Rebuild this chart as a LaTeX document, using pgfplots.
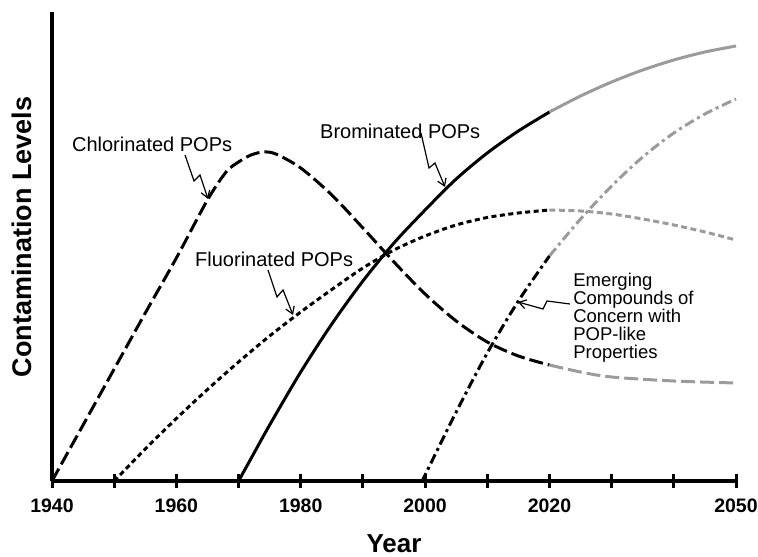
\documentclass[border=0pt]{standalone}
\usepackage{fontspec}
\setmainfont{Liberation Sans}
\usepackage{pgfplots}
\pgfplotsset{compat=1.18}
\usetikzlibrary{arrows.meta}
\definecolor{fut}{RGB}{155,155,155}
\begin{document}
\begin{tikzpicture}
\useasboundingbox (-52pt,-76pt) rectangle (706pt,481pt);
\begin{axis}[
  scale only axis, width=684pt, height=469pt,
  xmin=1940, xmax=2050, ymin=0, ymax=469,
  axis x line=bottom, axis y line=left,
  axis line style={-, line width=3.5pt},
  xtick={1940,1950,...,2050},
  xticklabels={1940,,1960,,1980,,2000,,2020,,,2050},
  ytick=\empty,
  major tick length=14pt, tick align=center,
  every tick/.style={black, line width=3pt},
  /pgf/number format/assume math mode=true,
  xticklabel style={font=\fontsize{19.5}{20}\selectfont\bfseries, inner sep=0pt, anchor=north, yshift=-11pt},
  xlabel={Year},
  xlabel style={at={(axis description cs:0.5,0)}, anchor=base, yshift=-71pt, inner sep=0pt, font=\fontsize{26}{28}\selectfont\bfseries},
  ylabel={Contamination Levels},
  ylabel style={at={(axis description cs:-0.044,0.52)}, anchor=center, inner sep=0pt, font=\fontsize{27}{28}\selectfont\bfseries},
  clip=false,
]
% Chlorinated POPs
\addplot[black, line width=3pt, dash pattern=on 14pt off 5pt, smooth] coordinates {
 (1940,0) (1945,56) (1950,112) (1955,168) (1960,223) (1965,281) (1968,309) (1970,319) (1972,326) (1974,329) (1976,327) (1980,313) (1985,286) (1990,253) (1995,219) (2000,187) (2005,160) (2010,139) (2015,125) (2020,116)};
\addplot[fut, line width=3pt, dash pattern=on 14pt off 5pt, smooth] coordinates {
 (2020,116) (2025,109) (2030,104) (2040,100) (2050,98)};
% Fluorinated POPs
\addplot[black, line width=3pt, dash pattern=on 5pt off 3.5pt, smooth] coordinates {
 (1950,0) (1955,32) (1960,62.5) (1965,91.5) (1970,119) (1975,145) (1980,169) (1985,191.5) (1990,213) (1995,231) (2000,245) (2005,256) (2010,263.5) (2015,268) (2020,271)};
\addplot[fut, line width=3pt, dash pattern=on 6pt off 3.5pt, smooth] coordinates {
 (2020,271) (2025,270) (2030,267) (2035,262) (2040,256) (2045,249) (2050,241)};
% Brominated POPs
\addplot[black, line width=3pt, smooth] coordinates {
 (1970,0) (1972,22.4) (1975,56) (1980,109) (1985,157) (1990,200) (1995,238) (2000,271) (2005,302) (2010,328) (2015,350) (2020,369)};
\addplot[fut, line width=3pt, smooth] coordinates {
 (2020,369) (2025,385) (2030,399) (2035,411) (2040,421) (2045,429) (2050,435)};
% Emerging compounds
\addplot[black, line width=3pt, dash pattern=on 10pt off 4pt on 3pt off 4pt, smooth] coordinates {
 (1999.5,0) (2000,6) (2005,69) (2010,128) (2015,180) (2020,225)};
\addplot[fut, line width=3pt, dash pattern=on 10pt off 4pt on 3pt off 4pt, smooth] coordinates {
 (2020,225) (2025,262) (2030,295) (2035,324) (2040,348) (2045,367) (2050,382)};
% annotations
\node[anchor=base west, inner sep=0pt, font=\fontsize{20}{22}\selectfont] at (axis cs:1943.2,329) {Chlorinated POPs};
\node[anchor=base west, inner sep=0pt, font=\fontsize{20}{22}\selectfont] at (axis cs:1983.1,342) {Brominated POPs};
\node[anchor=base west, inner sep=0pt, font=\fontsize{20}{22}\selectfont] at (axis cs:1963.0,214) {Fluorinated POPs};
\begin{scope}[every node/.style={anchor=base west, inner sep=0pt, text height=13.5pt, text depth=3.4pt, font=\fontsize{18.5}{18}\selectfont}]
\node at (axis cs:2023.8,194) {Emerging};
\node at (axis cs:2023.8,176) {Compounds of};
\node at (axis cs:2023.8,158) {Concern with};
\node at (axis cs:2023.8,140) {POP-like};
\node at (axis cs:2023.8,122) {Properties};
\end{scope}
\draw[line width=1.2pt, -{Straight Barb[length=7pt,width=9pt]}] (axis cs:1961.39,326) -- (axis cs:1962.84,300) -- (axis cs:1963.80,306) -- (axis cs:1965.09,282);
\draw[line width=1.2pt, -{Straight Barb[length=7pt,width=9pt]}] (axis cs:1999.34,348) -- (axis cs:2000.63,313) -- (axis cs:2001.59,318) -- (axis cs:2003.2,294);
\draw[line width=1.2pt, -{Straight Barb[length=7pt,width=9pt]}] (axis cs:1974.74,211) -- (axis cs:1976.18,184) -- (axis cs:1977.15,191) -- (axis cs:1978.76,166);
\draw[line width=1.2pt, -{Straight Barb[length=7pt,width=9pt]}] (axis cs:2023.3,177) -- (axis cs:2019.6,180) -- (axis cs:2018.96,172) -- (axis cs:2014.94,179);
\end{axis}
\end{tikzpicture}
\end{document}
